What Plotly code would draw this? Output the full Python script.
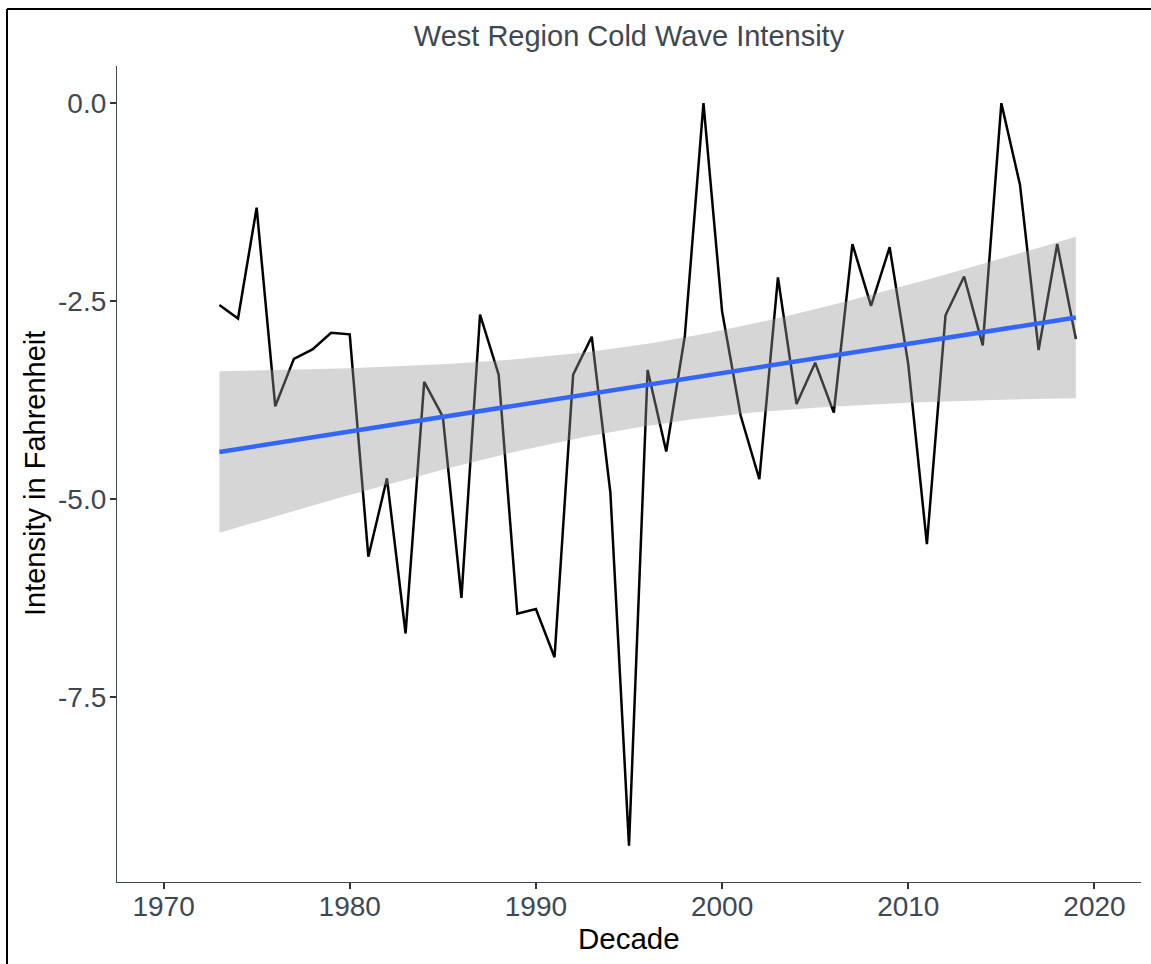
import numpy as np
import plotly.graph_objects as go

years = list(range(1973, 2020))
intensity = [-2.55, -2.72, -1.32, -3.83, -3.23, -3.11, -2.90, -2.92,
             -5.73, -4.74, -6.70, -3.52, -3.96, -6.25, -2.67, -3.43,
             -6.45, -6.39, -7.00, -3.43, -2.95, -4.92, -9.38, -3.37,
             -4.40, -2.94, 0.00, -2.63, -3.95, -4.75, -2.20, -3.80,
             -3.28, -3.91, -1.78, -2.56, -1.82, -3.30, -5.57, -2.68,
             -2.19, -3.06, 0.00, -1.03, -3.12, -1.78, -2.98]
x_ticks = [1970, 1980, 1990, 2000, 2010, 2020]
y_ticks = [0.0, -2.5, -5.0, -7.5]
y_tick_text = ["0.0", "-2.5", "-5.0", "-7.5"]

# linear model smoother (like geom_smooth(method="lm"))
x = np.array(years, dtype=float)
y = np.array(intensity, dtype=float)
n = len(x)
b1, b0 = np.polyfit(x, y, 1)
resid = y - (b0 + b1 * x)
s = np.sqrt(np.sum(resid ** 2) / (n - 2))
sxx = np.sum((x - x.mean()) ** 2)
t_crit = 2.0141  # t(0.975, df=45)
xs = np.linspace(x.min(), x.max(), 80)
fit = b0 + b1 * xs
se = s * np.sqrt(1.0 / n + (xs - x.mean()) ** 2 / sxx)
upper = fit + t_crit * se
lower = fit - t_crit * se

fig = go.Figure()
fig.add_trace(go.Scatter(x=years, y=intensity, mode="lines",
                         line=dict(color="black", width=2.5), showlegend=False))
fig.add_trace(go.Scatter(x=xs, y=upper, mode="lines", line=dict(width=0),
                         showlegend=False, hoverinfo="skip"))
fig.add_trace(go.Scatter(x=xs, y=lower, mode="lines", line=dict(width=0),
                         fill="tonexty", fillcolor="rgba(153,153,153,0.4)",
                         showlegend=False, hoverinfo="skip"))
fig.add_trace(go.Scatter(x=xs, y=fit, mode="lines",
                         line=dict(color="#3366FF", width=4.5), showlegend=False))

axis_col = "#3d4852"
font_fam = "Liberation Sans, Arial, sans-serif"

fig.update_layout(
    width=1151, height=964,
    margin=dict(l=117, r=10, t=66, b=82),
    paper_bgcolor="white", plot_bgcolor="white",
    font=dict(family=font_fam),
    title=dict(text="West Region Cold Wave Intensity", x=(117 + 1141) / 2 / 1151,
               xanchor="center", y=1 - 36 / 964, yanchor="middle",
               font=dict(size=29, color=axis_col, family=font_fam)),
    xaxis=dict(range=[1967.5, 2022.5], tickvals=x_ticks, showgrid=False, zeroline=False,
               showline=True, linecolor=axis_col, linewidth=1.3,
               ticks="outside", ticklen=6, tickwidth=2, tickcolor="#333333",
               ticklabelstandoff=-7,
               tickfont=dict(size=28, color=axis_col, family=font_fam)),
    yaxis=dict(range=[-9.84, 0.47], tickvals=y_ticks, ticktext=y_tick_text,
               showgrid=False, zeroline=False,
               showline=True, linecolor=axis_col, linewidth=1.3,
               ticks="outside", ticklen=6, tickwidth=2, tickcolor="#333333",
               ticklabelstandoff=-2,
               tickfont=dict(size=28, color=axis_col, family=font_fam)),
    annotations=[
        dict(text="Decade", xref="paper", yref="paper", x=0.5, y=0,
             yshift=-56, xanchor="center", yanchor="middle", showarrow=False,
             font=dict(size=29.5, color="black", family=font_fam)),
        dict(text="Intensity in Fahrenheit", xref="paper", yref="paper", x=0, y=0.5,
             xshift=-82, xanchor="center", yanchor="middle", textangle=-90,
             showarrow=False, font=dict(size=29, color="black", family=font_fam)),
    ],
    shapes=[
        dict(type="line", xref="paper", yref="paper",
             x0=(7 - 117) / 1024, x1=(7 - 117) / 1024,
             y0=(882 - 9) / 816, y1=(882 - 970) / 816,
             line=dict(color="black", width=2)),
        dict(type="line", xref="paper", yref="paper",
             x0=(7 - 117) / 1024, x1=(1160 - 117) / 1024,
             y0=(882 - 9) / 816, y1=(882 - 9) / 816,
             line=dict(color="black", width=2)),
    ],
)

fig.write_html("out.html")
